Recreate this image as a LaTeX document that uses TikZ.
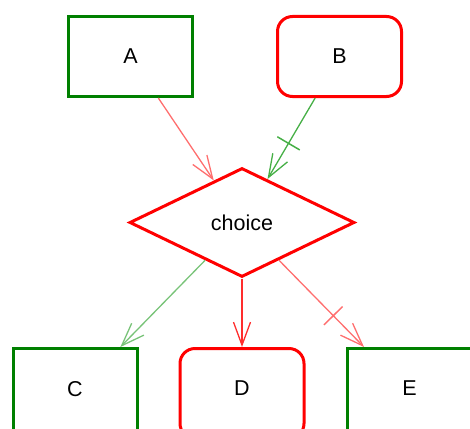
\documentclass[tikz,border=0pt]{standalone}
\usepackage{fontspec}
\setmainfont{Liberation Sans}
\usetikzlibrary{shapes.geometric,arrows.meta,decorations.markings}
\definecolor{boxgreen}{RGB}{0,128,0}
\definecolor{boxred}{RGB}{255,0,0}
\definecolor{lred}{RGB}{255,110,110}
\definecolor{mred}{RGB}{255,45,45}
\definecolor{mgreen}{RGB}{70,175,70}
\definecolor{lgreen}{RGB}{120,195,120}
\tikzset{
  labelfont/.style={font=\fontsize{21.5}{25}\selectfont},
  sqbox/.style={draw=boxgreen,line width=3pt,fill=white,minimum width=124pt,minimum height=80pt,inner sep=0pt,labelfont},
  rdbox/.style={draw=boxred,line width=3pt,fill=white,rounded corners=15pt,minimum width=124pt,minimum height=80pt,inner sep=0pt,labelfont},
  tallbox/.style={minimum height=90pt,text depth=10pt},
  choicebox/.style={draw=boxred,line width=3pt,fill=white,shape=diamond,minimum width=225pt,minimum height=109pt,inner sep=0pt,labelfont},
  conn/.style={line width=1.3pt,-{Straight Barb[length=23pt,width=17pt,line width=1.3pt]}},
  tickmark/.style={postaction={decorate},decoration={markings,mark=at position #1 with {\draw[-,line width=1.5pt] (0,-13pt) -- (0,13pt);}}}
}
\begin{document}
\begin{tikzpicture}[x=1pt,y=-1pt]
\useasboundingbox (0,0) rectangle (470,428);
\clip (0,0) rectangle (470,428);
\node[sqbox] (A) at (130.5,56.5) {A};
\node[rdbox] (B) at (339.5,56.5) {B};
\node[choicebox] (ch) at (242,222.5) {choice};
\node[sqbox,tallbox] (C) at (75,393.5) {C};
\node[rdbox,tallbox] (D) at (242,393.5) {D};
\node[sqbox,tallbox] (E) at (409.5,393.5) {E};
\draw[conn,lred] (A) -- (ch);
\draw[conn,mgreen,tickmark=0.56] (B) -- (ch);
\draw[conn,lgreen] (ch) -- (C);
\draw[conn,mred] (ch) -- (D);
\draw[conn,lred,tickmark=0.64] (ch) -- (E);
\end{tikzpicture}
\end{document}
